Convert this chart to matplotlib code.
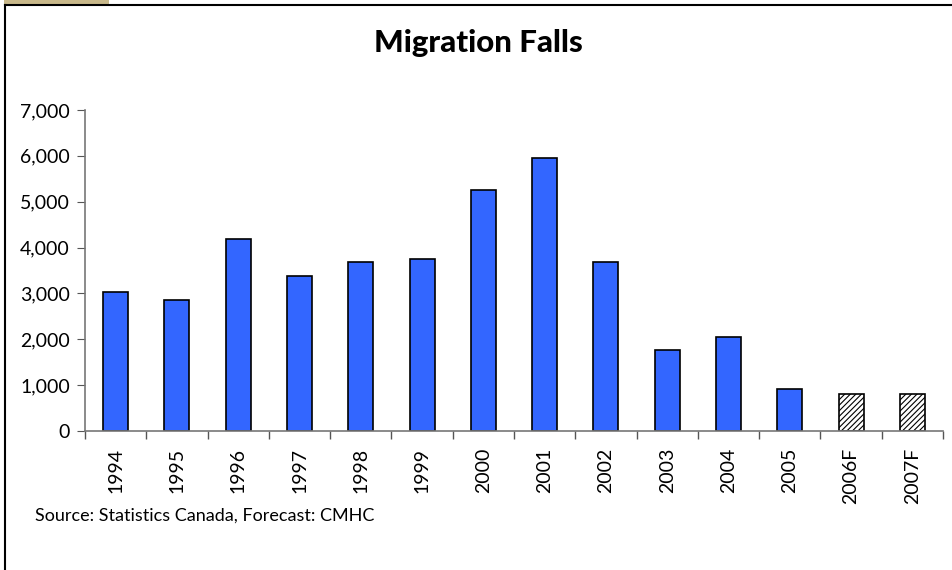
import matplotlib
matplotlib.use("Agg")
import matplotlib.pyplot as plt
from matplotlib.patches import Rectangle
from matplotlib.lines import Line2D
from matplotlib.ticker import FuncFormatter, FixedLocator
import numpy as np

plt.rcParams['font.family'] = ['Lato', 'DejaVu Sans']
plt.rcParams['hatch.color'] = '#555555'
plt.rcParams['hatch.linewidth'] = 0.8

categories = ["1994", "1995", "1996", "1997", "1998", "1999", "2000", "2001",
              "2002", "2003", "2004", "2005", "2006F", "2007F"]
values = [3030, 2860, 4180, 3380, 3680, 3760, 5250, 5960,
          3690, 1770, 2050, 910, 810, 810]
forecast = [False] * 12 + [True, True]

W, H = 952, 570
fig = plt.figure(figsize=(W / 100, H / 100), dpi=100)

# outer frame (left & top only) and tab
fig.lines.append(Line2D([4.5 / W, 4.5 / W], [0, (H - 4.5) / H], transform=fig.transFigure,
                        color='black', linewidth=1.5))
fig.lines.append(Line2D([4.5 / W, 1], [(H - 4.5) / H, (H - 4.5) / H], transform=fig.transFigure,
                        color='black', linewidth=1.5))
fig.patches.append(Rectangle((4 / W, (H - 6) / H), 105 / W, 6 / H, transform=fig.transFigure,
                             facecolor='#c8b88a', edgecolor='none'))

ax = fig.add_axes([85 / W, (H - 431) / H, (943 - 85) / W, (431 - 110) / H])
x = np.arange(len(categories))
for xi, v, f in zip(x, values, forecast):
    if f:
        ax.bar(xi, v, width=0.41, color='white', edgecolor='black', hatch='//////', linewidth=1.2)
    else:
        ax.bar(xi, v, width=0.41, color='#3366ff', edgecolor='black', linewidth=1.2)

ax.set_xlim(-0.5, len(categories) - 0.5)
ax.set_ylim(0, 7000)
ax.set_yticks(np.arange(0, 7001, 1000))
ax.yaxis.set_major_formatter(FuncFormatter(lambda v, p: f"{int(v):,}"))
ax.set_xticks(x)
ax.set_xticklabels(categories, rotation=90, fontsize=14)
ax.tick_params(axis='x', length=0, pad=12)
ax.xaxis.set_minor_locator(FixedLocator(np.arange(-0.5, len(categories), 1.0)))
ax.tick_params(axis='x', which='minor', length=6, color='#555555', width=1)
ax.tick_params(axis='y', length=6, color='#555555', labelsize=14, pad=5)
for s in ['top', 'right']:
    ax.spines[s].set_visible(False)
for s in ['left', 'bottom']:
    ax.spines[s].set_color('#777777')
    ax.spines[s].set_linewidth(1.2)

fig.text(478 / W, 1 - 43 / H, "Migration Falls", ha='center', va='center',
         fontsize=22.5, fontweight='black')
fig.text(35 / W, 1 - 516 / H, "Source: Statistics Canada, Forecast: CMHC", ha='left', va='center',
         fontsize=13)

fig.savefig("out.png", dpi=100)
